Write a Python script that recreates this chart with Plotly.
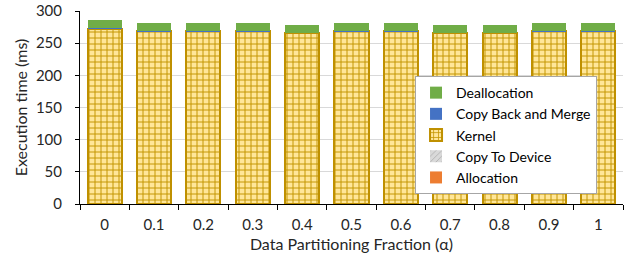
import plotly.graph_objects as go

categories = ["0", "0.1", "0.2", "0.3", "0.4", "0.5", "0.6", "0.7", "0.8", "0.9", "1"]
allocation = [0.1, 0.1, 0.1, 0.1, 0.1, 0.1, 0.1, 0.1, 0.1, 0.1, 0.1]
copy_to_device = [0.1, 0.1, 0.1, 0.1, 0.1, 0.1, 0.1, 0.1, 0.1, 0.1, 0.1]
kernel = [272, 268, 268, 268, 266, 268, 268, 266, 266, 268, 268]
copy_back = [2.0, 0.1, 0.1, 0.1, 0.1, 0.1, 0.1, 0.1, 0.1, 0.1, 0.1]
deallocation = [12.5, 12.5, 12.5, 12.5, 11.5, 12.5, 12.5, 11.5, 11.5, 12.5, 12.5]

fig = go.Figure()
fig.add_bar(x=categories, y=allocation, name="Allocation",
            marker=dict(color="#ED7D31", line=dict(width=0)))
fig.add_bar(x=categories, y=copy_to_device, name="Copy To Device",
            marker=dict(color="#A5A5A5", line=dict(width=0),
                        pattern=dict(shape="/", fgcolor="#7F7F7F", bgcolor="#D9D9D9", size=5)))
fig.add_bar(x=categories, y=kernel, name="Kernel",
            marker=dict(color="#BF9000", line=dict(color="#BF9000", width=2),
                        pattern=dict(shape="+", fgcolor="#C49600", bgcolor="#FFE699",
                                     size=6, solidity=0.3, fillmode="replace")))
fig.add_bar(x=categories, y=copy_back, name="Copy Back and Merge",
            marker=dict(color="#4472C4", line=dict(width=0)))
fig.add_bar(x=categories, y=deallocation, name="Deallocation",
            marker=dict(color="#70AD47", line=dict(width=0)))

font = "Lato, Carlito, Calibri, sans-serif"
fig.update_layout(
    barmode="stack",
    bargap=0.31,
    width=638, height=268,
    margin=dict(l=80, r=15, t=11, b=64, autoexpand=False),
    plot_bgcolor="white", paper_bgcolor="white",
    font=dict(family=font, size=15, color="#262626"),
    legend=dict(traceorder="reversed", x=0.617, y=0.663, xanchor="left", yanchor="top",
                bgcolor="white", bordercolor="#A6A6A6", borderwidth=1,
                font=dict(size=14, color="#000000"), itemwidth=30,
                tracegroupgap=0),
    showlegend=True,
)
fig.update_xaxes(
    type="category", showline=True, linecolor="#000000", linewidth=1,
    ticks="outside", tickson="boundaries", ticklen=5, tickcolor="#000000",
    ticklabelstandoff=7,
    title=dict(text="Data Partitioning Fraction (α)", font=dict(size=16), standoff=6),
    tickfont=dict(size=15), showgrid=False, automargin=False,
)
fig.update_yaxes(
    range=[0, 300], dtick=50, showline=True, linecolor="#000000", linewidth=1,
    ticks="outside", ticklen=4, tickcolor="#000000",
    ticklabelstandoff=10,
    gridcolor="#D9D9D9", gridwidth=1,
    title=dict(text="Execution time (ms)", font=dict(size=16), standoff=4),
    tickfont=dict(size=15), zeroline=False, automargin=False,
)
fig.write_html("out.html", config={"displayModeBar": False},
               post_script="document.body.style.margin='0';")
